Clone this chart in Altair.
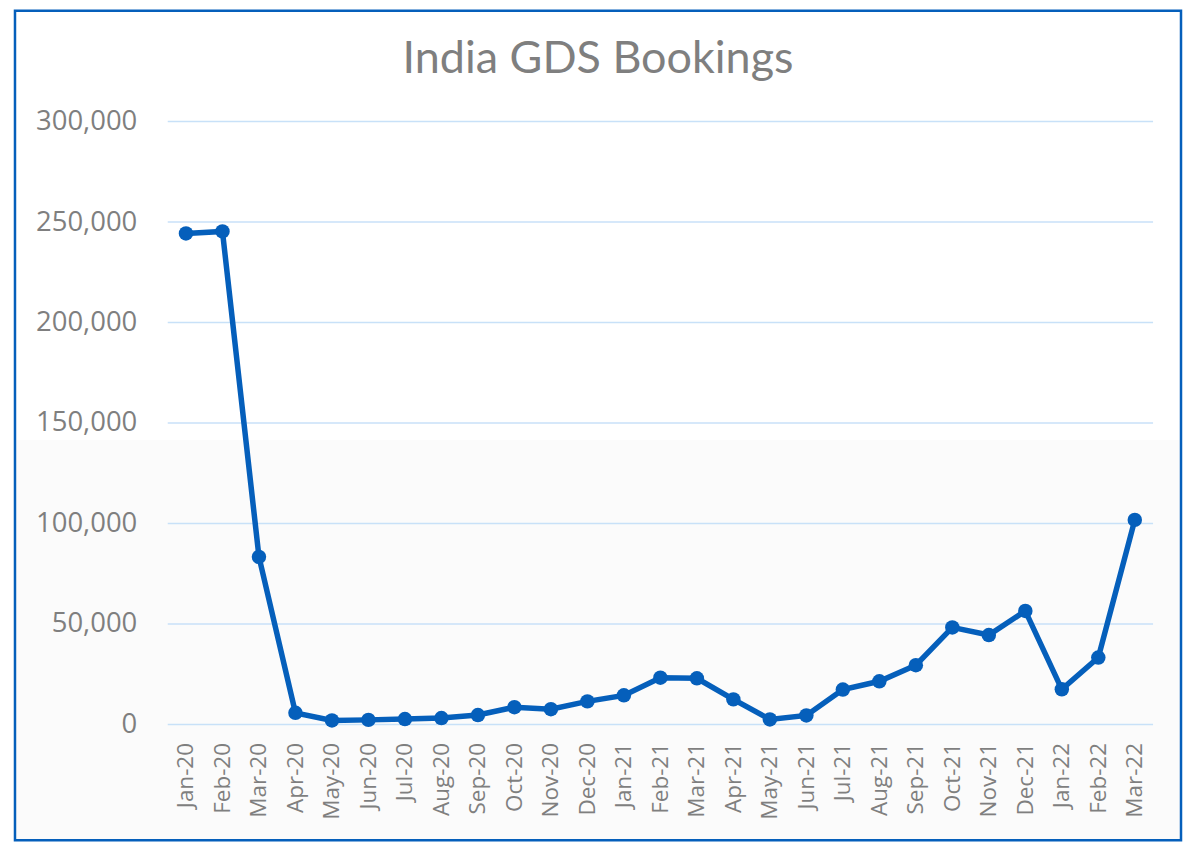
import altair as alt
import pandas as pd

TITLE = "India GDS Bookings"
MONTHS = ["Jan-20", "Feb-20", "Mar-20", "Apr-20", "May-20", "Jun-20", "Jul-20", "Aug-20",
          "Sep-20", "Oct-20", "Nov-20", "Dec-20", "Jan-21", "Feb-21", "Mar-21", "Apr-21",
          "May-21", "Jun-21", "Jul-21", "Aug-21", "Sep-21", "Oct-21", "Nov-21", "Dec-21",
          "Jan-22", "Feb-22", "Mar-22"]
BOOKINGS = [244300, 245300, 83400, 5800, 2000, 2300, 2700, 3200, 4700, 8600, 7600, 11500,
            14500, 23300, 23000, 12500, 2500, 4500, 17400, 21500, 29500, 48300, 44500,
            56500, 17500, 33300, 101800]
Y_TICKS = [0, 50000, 100000, 150000, 200000, 250000, 300000]

W, H = 987, 604
BLUE = "#055fbb"
GRAY = "#7f7f7f"

df = pd.DataFrame({"month": MONTHS, "bookings": BOOKINGS})
grid_df = pd.DataFrame({"v": Y_TICKS})
one = pd.DataFrame({"a": [0]})

x_enc = alt.X("month:O", sort=MONTHS, title=None,
              axis=alt.Axis(labelAngle=-90, labelFontSize=22.5, labelColor=GRAY,
                            labelFont="Open Sans", labelPadding=18, ticks=False,
                            domain=False, grid=False, zindex=1))
y_scale = alt.Scale(domain=[0, 300000], nice=False)

bg = alt.Chart(one).mark_rect(color="#fbfbfb").encode(
    x=alt.value(-153), x2=alt.value(1015), y=alt.value(319), y2=alt.value(720))

grid = alt.Chart(grid_df).mark_rule(color="#c8e1f8", strokeWidth=1.5).encode(
    y=alt.Y("v:Q", scale=y_scale, title=None,
            axis=alt.Axis(values=Y_TICKS, format=",d", labelFontSize=27.5, labelColor=GRAY,
                          labelFont="Open Sans", labelPadding=31, ticks=False,
                          domain=False, grid=False, zindex=1)),
    x=alt.value(0), x2=alt.value(W))

line = alt.Chart(df).mark_line(color=BLUE, strokeWidth=5.5,
                               point=alt.OverlayMarkDef(color=BLUE, size=210, filled=True, opacity=1)).encode(
    x=x_enc,
    y=alt.Y("bookings:Q", scale=y_scale),
)

title = alt.Chart(pd.DataFrame({"t": [TITLE]})).mark_text(
    font="Lato", fontSize=45, color=GRAY, align="center", baseline="middle").encode(
    text="t:N", x=alt.value(431), y=alt.value(-63))

border = alt.Chart(one).mark_rect(fill=None, stroke=BLUE, strokeWidth=2.5).encode(
    x=alt.value(-153), x2=alt.value(1015), y=alt.value(-111), y2=alt.value(720))

chart = alt.layer(bg, grid, line, title, border).properties(
    width=W, height=H,
    background="white",
    autosize=alt.AutoSizeParams(type="none"),
    padding={"left": 160, "top": 113, "right": 30, "bottom": 123},
).configure_view(strokeWidth=0, stroke="transparent")

chart.save("out.html", embed_options={"renderer": "svg", "actions": False})
